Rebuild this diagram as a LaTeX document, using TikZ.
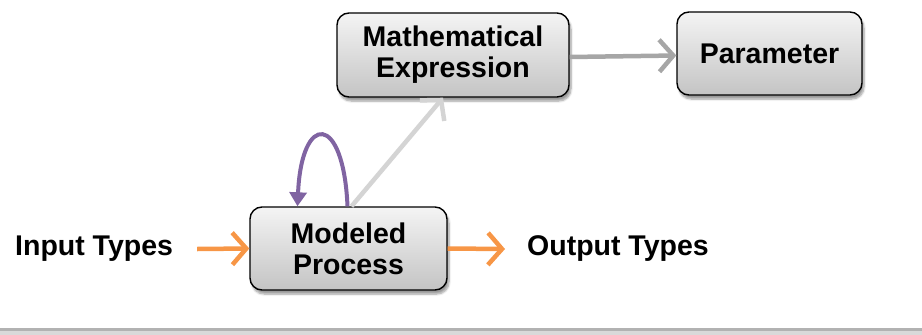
\documentclass[tikz,border=0pt]{standalone}
\usepackage{fontspec}
\setmainfont{Liberation Sans}
\usetikzlibrary{arrows.meta,shadows.blur}

\definecolor{boxtop}{HTML}{F4F4F4}
\definecolor{boxbot}{HTML}{C4C4C4}
\definecolor{orangeline}{HTML}{F79646}
\definecolor{purpleline}{HTML}{8064A2}
\definecolor{grayline}{HTML}{A6A6A6}
\definecolor{lightline}{HTML}{D4D4D4}

\tikzset{
  procbox/.style={draw=black, line width=1.4pt, rounded corners=12pt,
    top color=boxtop, bottom color=boxbot, align=center,
    font=\bfseries\fontsize{28.5}{31}\selectfont, inner sep=0pt,
    blur shadow={shadow xshift=2pt, shadow yshift=-4pt, shadow blur steps=6, shadow opacity=40}},
  label/.style={font=\bfseries\fontsize{28.5}{31}\selectfont, inner sep=0pt},
  flow/.style={line width=4.5pt, -{Straight Barb[length=14pt, width=32pt, line width=4.5pt]}},
  loopflow/.style={line width=4pt, -{Triangle[length=14pt, width=17pt]}},
}

\begin{document}
\begin{tikzpicture}[x=1pt, y=-1pt]
  \useasboundingbox (0,0) rectangle (922,335);

  % process boxes
  \node[procbox, minimum width=197pt, minimum height=83pt] (mp) at (348.5,248.5) {Modeled\\Process};
  \node[procbox, minimum width=232pt, minimum height=84pt] (me) at (453,55) {Mathematical\\Expression};
  \node[procbox, minimum width=185pt, minimum height=83pt] (pa) at (769.5,53.5) {Parameter};

  % side labels
  \node[label, anchor=west] (in) at (15,249) {Input Types};
  \node[label, anchor=west] (out) at (527,249) {Output Types};

  % connectors
  \draw[flow, draw=orangeline] ([xshift=24pt]in.east) -- (mp.west);
  \draw[flow, draw=orangeline] (mp.east) -- ([xshift=-22pt]out.west);
  \draw[flow, draw=grayline] ([yshift=-2pt]me.east) -- ([yshift=-2pt]pa.west);
  \draw[flow, draw=lightline] ([xshift=3pt]mp.north) -- ([xshift=-10pt]me.south);
  \draw[loopflow, draw=purpleline] ([xshift=-1pt]mp.north)
    .. controls +(-4,-94) and +(4,-94) .. ([xshift=-51pt]mp.north);

  % rule along the bottom edge
  \fill[gray!60] (0,328) rectangle (922,331);
  \fill[gray!30] (0,331) rectangle (922,335);
\end{tikzpicture}
\end{document}
